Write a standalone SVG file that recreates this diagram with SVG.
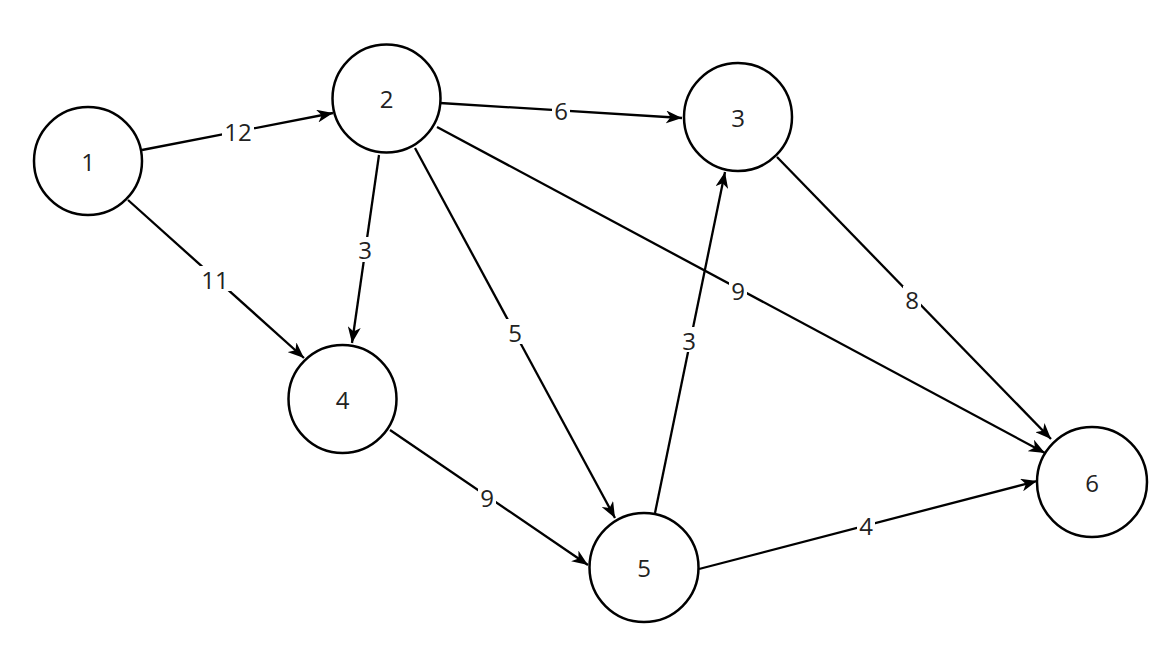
<svg xmlns="http://www.w3.org/2000/svg" width="1174" height="656" viewBox="0 0 1174 656">
<style>
.node circle{fill:#fff;stroke:#000;stroke-width:2.5}
.t{font-family:"Open Sans","Noto Sans",sans-serif;font-size:24px;fill:#222;text-anchor:middle;dominant-baseline:central}
.e line{stroke:#000;stroke-width:2.3}
.lb{fill:#fff}
</style>
<defs>
<marker id="arr" markerUnits="userSpaceOnUse" markerWidth="17" markerHeight="13" viewBox="0 0 17 13" refX="16" refY="6.5" orient="auto">
<path d="M0,0 L16,6.5 L0,13 L4.5,6.5 z" fill="#000"/>
</marker>
</defs>
<rect width="1174" height="656" fill="#fff"/>
<g id="connectors" class="e">
<line x1="142" y1="150" x2="333" y2="113" marker-end="url(#arr)"/>
<line x1="128" y1="200" x2="304" y2="358" marker-end="url(#arr)"/>
<line x1="440" y1="103" x2="682" y2="118" marker-end="url(#arr)"/>
<line x1="379" y1="155" x2="352" y2="343" marker-end="url(#arr)"/>
<line x1="415" y1="148" x2="615" y2="518" marker-end="url(#arr)"/>
<line x1="437" y1="127" x2="1045" y2="453" marker-end="url(#arr)"/>
<line x1="655" y1="513" x2="725" y2="172" marker-end="url(#arr)"/>
<line x1="777" y1="157" x2="1051" y2="439" marker-end="url(#arr)"/>
<line x1="390" y1="430" x2="588" y2="565" marker-end="url(#arr)"/>
<line x1="699" y1="569" x2="1037" y2="481" marker-end="url(#arr)"/>
<g id="edge-labels">
<rect class="lb" x="222" y="119" width="32" height="25"/><text class="t" x="238" y="131">12</text>
<rect class="lb" x="199" y="266" width="32" height="25"/><text class="t" x="215" y="279">11</text>
<rect class="lb" x="552" y="98" width="18" height="25"/><text class="t" x="561" y="110">6</text>
<rect class="lb" x="356" y="237" width="18" height="25"/><text class="t" x="365" y="249">3</text>
<rect class="lb" x="506" y="319" width="18" height="25"/><text class="t" x="515" y="332">5</text>
<rect class="lb" x="729" y="278" width="18" height="25"/><text class="t" x="738" y="290">9</text>
<rect class="lb" x="680" y="327" width="18" height="25"/><text class="t" x="689" y="340">3</text>
<rect class="lb" x="903" y="286" width="18" height="25"/><text class="t" x="912" y="299">8</text>
<rect class="lb" x="478" y="484" width="18" height="25"/><text class="t" x="487" y="497">9</text>
<rect class="lb" x="857" y="512" width="18" height="25"/><text class="t" x="866" y="525">4</text>
</g>
</g>
<g id="node1" class="node"><circle cx="88" cy="161" r="54"/><text class="t" x="88" y="161">1</text></g>
<g id="node2" class="node"><circle cx="386.5" cy="98.5" r="54"/><text class="t" x="386.5" y="98.5">2</text></g>
<g id="node3" class="node"><circle cx="738" cy="117" r="54"/><text class="t" x="738" y="117">3</text></g>
<g id="node4" class="node"><circle cx="342.5" cy="399" r="54"/><text class="t" x="342.5" y="399">4</text></g>
<g id="node5" class="node"><circle cx="644" cy="567.5" r="54.5"/><text class="t" x="644" y="567.5">5</text></g>
<g id="node6" class="node"><circle cx="1092" cy="482" r="55"/><text class="t" x="1092" y="482">6</text></g>
</svg>
